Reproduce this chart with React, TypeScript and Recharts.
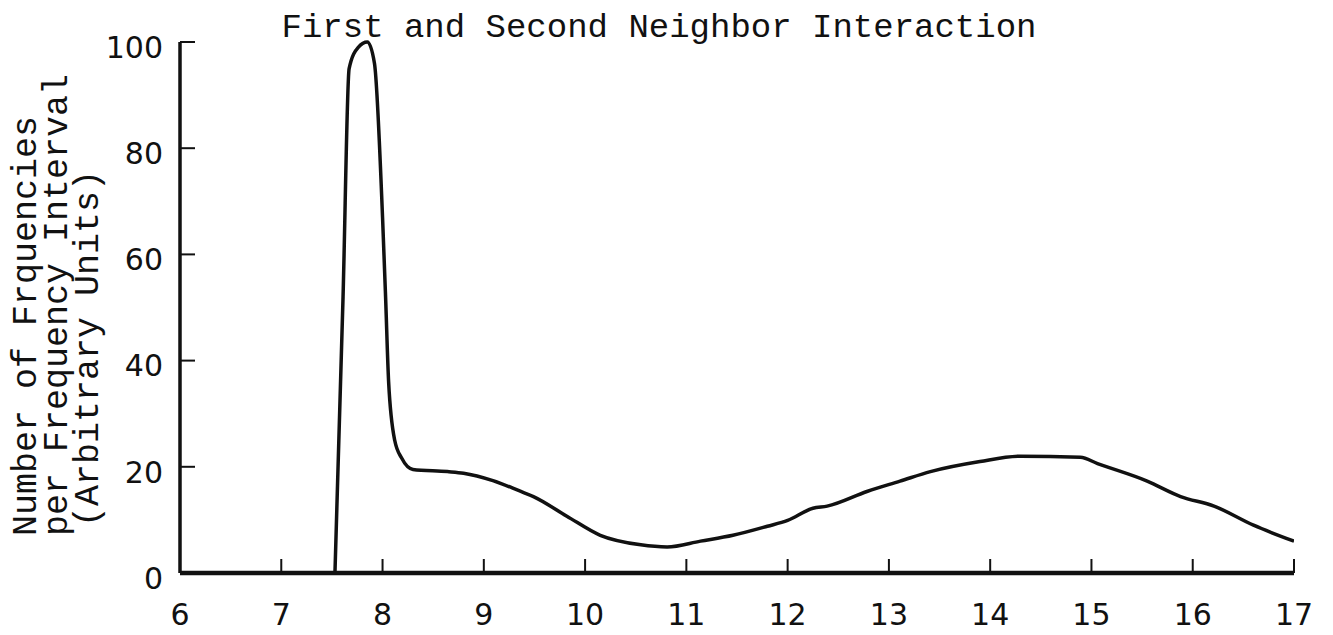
import React from "react";
import { LineChart, Line, XAxis, YAxis } from "recharts";

// frequency (x) and relative count (y)
const frequency = [
  7.53, 7.61, 7.67, 7.76, 7.85, 7.92, 8.0, 8.03, 8.06, 8.12, 8.19, 8.3, 8.64, 8.8,
  9.09, 9.36, 9.49, 9.82, 10.15, 10.55, 10.81, 11.14, 11.46, 11.8, 12.0, 12.25,
  12.39, 12.79, 13.11, 13.41, 13.9, 14.3, 14.89, 15.06, 15.55, 15.88, 16.21, 16.6, 17.0,
];
const counts = [
  0, 52, 95, 99, 100, 96, 67, 52, 36, 25, 21.6, 19.5, 19.1, 18.8,
  17.4, 15.4, 14.4, 10.7, 7.1, 5.3, 4.9, 6.0, 7.1, 8.8, 9.9, 12.2,
  12.6, 15.4, 17.3, 19.1, 21, 22, 21.8, 20.6, 17.3, 14.4, 12.6, 9.0, 6.0,
];
const xTicks = [6, 7, 8, 9, 10, 11, 12, 13, 14, 15, 16, 17];
const yTicks = [0, 20, 40, 60, 80, 100];

const titleText = "First and Second Neighbor Interaction";
const yLabelLines = ["Number of Frquencies", "per Frequency Interval", "(Arbitrary Units)"];

const rows = frequency.map((f, i) => ({ f, n: counts[i] }));

const INK = "#111";
const typewriter = "'Liberation Mono', 'DejaVu Sans Mono', monospace";
const lettering = "'DejaVu Sans', sans-serif";

// hand-lettered style numerals under the x axis
const XTick = (props: any) => {
  const { x, y, payload } = props;
  return (
    <text x={x} y={y} dy="0.72em" textAnchor="middle" fill={INK} fontSize={30} fontFamily={lettering}>
      {payload.value}
    </text>
  );
};

// numerals left of the y axis, sitting a little below their tick
const YTick = (props: any) => {
  const { x, y, payload } = props;
  return (
    <text x={x} y={y + 5} dy="0.36em" textAnchor="end" fill={INK} fontSize={30} fontFamily={lettering}>
      {payload.value}
    </text>
  );
};

export default function App() {
  return (
    // cancel the body margin so the svg covers the whole page
    <div style={{ width: 1333, height: 635, margin: -8, background: "#fff" }}>
      <LineChart
        width={1333}
        height={635}
        data={rows}
        margin={{ top: 42, right: 39, left: 0, bottom: 0 }}
      >
        <XAxis
          dataKey="f"
          type="number"
          domain={[6, 17]}
          ticks={xTicks}
          allowDataOverflow
          height={62}
          tickSize={-14}
          tickMargin={44}
          axisLine={{ stroke: INK, strokeWidth: 4.5 }}
          tickLine={{ stroke: INK, strokeWidth: 2 }}
          tick={<XTick />}
        />
        <YAxis
          type="number"
          domain={[0, 100]}
          ticks={yTicks}
          width={180}
          tickSize={-15}
          tickMargin={32}
          axisLine={{ stroke: INK, strokeWidth: 3.5 }}
          tickLine={{ stroke: INK, strokeWidth: 2 }}
          tick={<YTick />}
        />
        <Line
          dataKey="n"
          type="monotoneX"
          stroke={INK}
          strokeWidth={3.5}
          dot={false}
          isAnimationActive={false}
        />
        <text
          x={659}
          y={37}
          textAnchor="middle"
          fontFamily={typewriter}
          fontSize={34}
          fill={INK}
        >
          {titleText}
        </text>
        {yLabelLines.map((line, i) => (
          <text
            key={line}
            transform={`translate(${36 + i * 31}, ${i === 2 ? 527 : 536}) rotate(-90)`}
            textAnchor="start"
            fontFamily={typewriter}
            fontSize={35}
            fill={INK}
          >
            {line}
          </text>
        ))}
      </LineChart>
    </div>
  );
}
